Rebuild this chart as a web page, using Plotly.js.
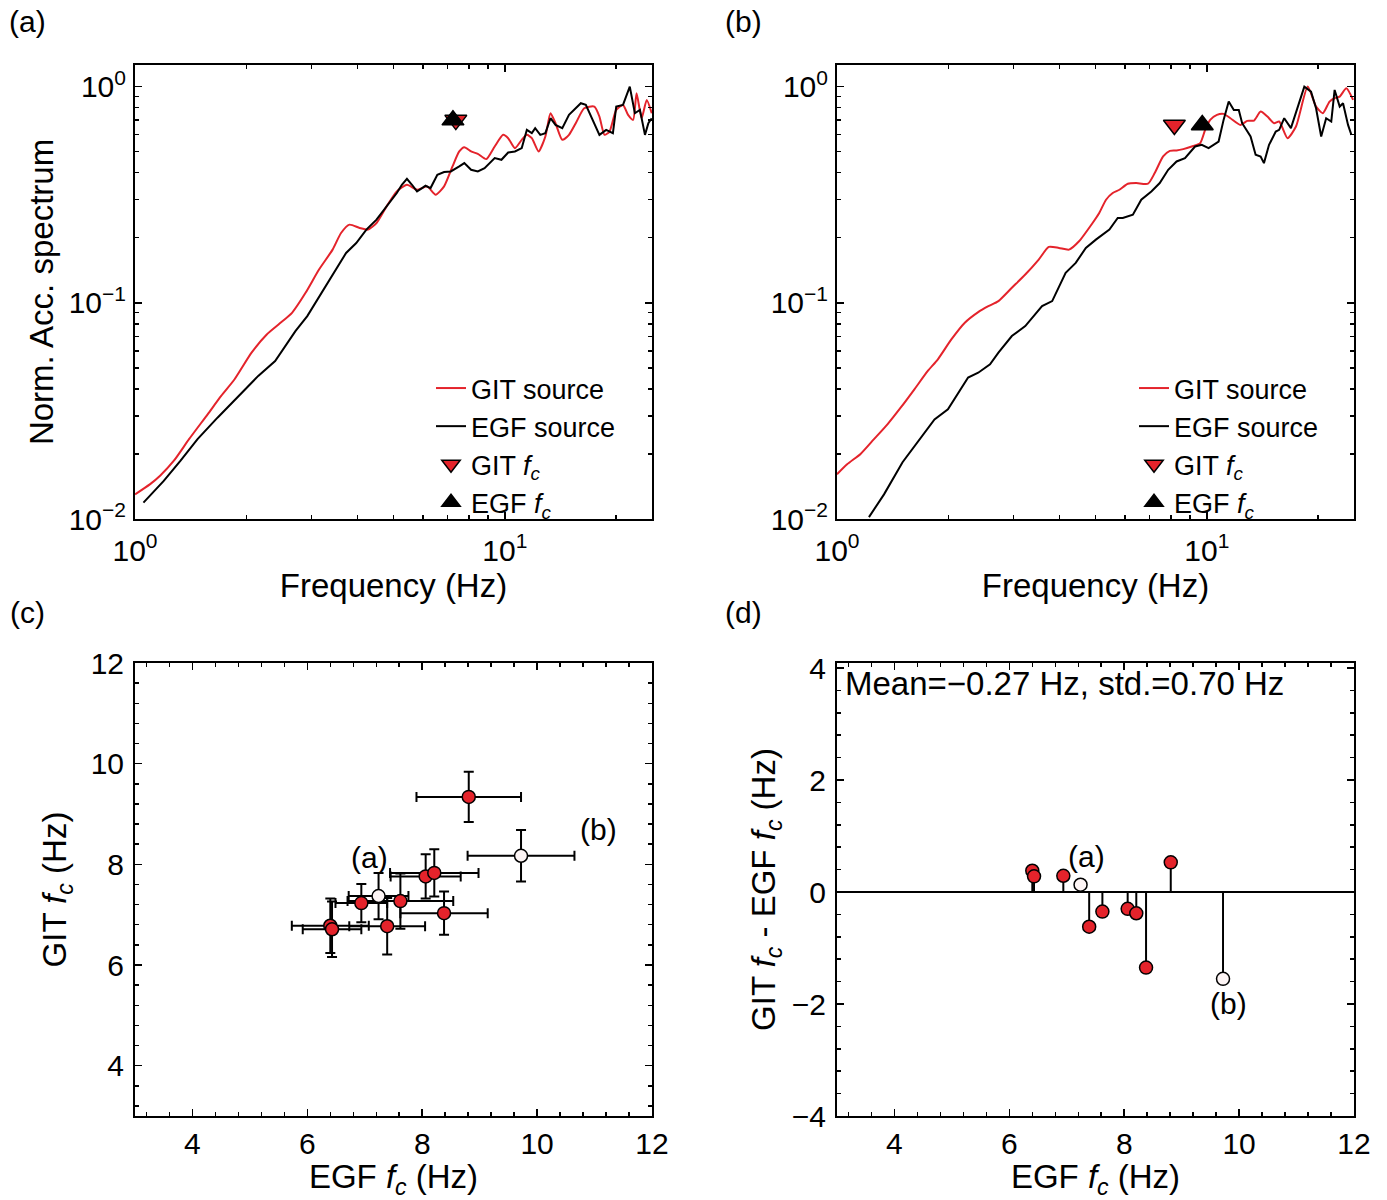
<!DOCTYPE html>
<html>
<head>
<meta charset="utf-8">
<script src="https://cdn.plot.ly/plotly-3.0.1.min.js"></script>
<style>
  html, body { margin: 0; padding: 0; background: #ffffff; }
  #chart { width: 1387px; height: 1200px; }
</style>
</head>
<body>
<div id="chart"></div>
<script>
// ---------------- DATA ----------------
// Panel (a): normalized acceleration source spectra
const freqGitA = [1.000,1.099,1.171,1.274,1.400,1.572,1.710,1.859,2.066,2.271,2.444,2.658,2.892,3.145,3.422,3.607,3.802,4.049,4.267,4.498,4.790,5.104,5.436,5.789,6.166,6.500,6.851,7.220,7.530,7.771,8.105,8.453,8.908,9.389,9.895,10.21,10.65,11.11,11.47,11.83,12.34,12.87,13.29,13.71,14.30,14.91,15.55,16.39,17.46,18.02,18.60,19.19,20.01,20.87,21.54,22.23,22.71,23.44,24.19,24.96];
const specGitA = [0.0130,0.0145,0.0159,0.0186,0.0234,0.0305,0.0371,0.0443,0.0588,0.0714,0.0794,0.0899,0.1112,0.1425,0.1762,0.2103,0.2299,0.2219,0.2181,0.2340,0.2794,0.3276,0.3516,0.3334,0.3455,0.3162,0.3455,0.4274,0.5012,0.5248,0.5012,0.4888,0.4620,0.5285,0.5983,0.5775,0.5193,0.5674,0.5983,0.5775,0.5012,0.5878,0.7533,0.6772,0.5674,0.5983,0.6772,0.7943,0.8085,0.7271,0.5983,0.6198,0.7803,0.8230,0.7400,0.7017,0.9316,0.7142,0.8679,0.7533];
const freqEgfA = [1.054,1.196,1.328,1.476,1.674,1.940,2.154,2.393,2.549,2.715,2.923,3.112,3.281,3.495,3.722,3.965,4.223,4.498,4.790,5.104,5.267,5.436,5.610,5.789,5.975,6.102,6.297,6.569,6.851,7.144,7.530,7.771,8.105,8.453,8.815,9.097,9.389,9.792,10.21,10.65,11.11,11.47,11.83,12.08,12.47,12.87,13.29,13.71,14.30,14.91,15.55,16.05,16.56,17.28,18.02,18.79,19.60,20.01,20.87,21.77,22.47,23.19,23.93,24.44,24.96];
const specEgfA = [0.0119,0.0150,0.0186,0.0234,0.0295,0.0384,0.0459,0.0538,0.0631,0.0740,0.0868,0.1036,0.1194,0.1425,0.1701,0.1891,0.2181,0.2424,0.2794,0.3220,0.3516,0.3748,0.3516,0.3276,0.3394,0.3479,0.3394,0.3912,0.4024,0.4053,0.4274,0.4427,0.4125,0.4053,0.4199,0.4427,0.4669,0.4587,0.4958,0.5012,0.5193,0.6310,0.6090,0.6424,0.5983,0.6090,0.7142,0.6652,0.6424,0.7400,0.7943,0.8377,0.8230,0.7017,0.5983,0.6310,0.6090,0.8085,0.8230,1.0000,0.7533,0.7803,0.5983,0.6772,0.7142];

// Panel (b)
const freqGitB = [1.000,1.065,1.158,1.259,1.369,1.488,1.619,1.760,1.874,2.038,2.216,2.409,2.566,2.732,2.970,3.229,3.511,3.739,3.981,4.240,4.513,4.910,5.117,5.339,5.566,5.803,6.115,6.443,6.933,7.229,7.617,7.943,8.283,8.637,9.102,9.590,9.896,10.21,10.65,11.10,11.58,12.33,12.86,13.41,13.98,14.58,15.20,15.69,16.53,17.42,18.74,19.74,20.59,21.47,22.16,22.87,23.84,24.86];
const specGitB = [0.0161,0.0179,0.0200,0.0234,0.0274,0.0328,0.0398,0.0484,0.0548,0.0677,0.0809,0.0906,0.0965,0.1018,0.1173,0.1351,0.1585,0.1813,0.1794,0.1762,0.1926,0.2340,0.2602,0.2998,0.3220,0.3334,0.3555,0.3580,0.3555,0.3981,0.4753,0.5047,0.5065,0.5138,0.5285,0.5474,0.6310,0.7017,0.7400,0.7481,0.7142,0.6652,0.6943,0.6968,0.7666,0.7271,0.6772,0.6894,0.5775,0.6535,1.0000,0.8085,0.7533,0.8527,0.8835,0.8991,0.9824,0.8679];
const freqEgfB = [1.220,1.340,1.504,1.653,1.835,1.995,2.262,2.409,2.593,2.732,2.970,3.229,3.585,3.818,4.152,4.421,4.708,5.012,5.452,5.742,5.926,6.310,6.648,7.079,7.459,7.862,8.283,8.728,9.294,9.691,10.11,10.76,11.10,11.46,11.83,12.20,12.46,13.13,13.55,13.98,14.27,14.73,15.36,15.69,16.19,16.88,17.60,18.35,19.13,19.74,20.38,21.02,21.70,22.16,22.87,23.35,24.09,24.60];
const specEgfB = [0.0102,0.0130,0.0183,0.0226,0.0289,0.0322,0.0451,0.0475,0.0519,0.0588,0.0702,0.0780,0.0965,0.1018,0.1376,0.1530,0.1794,0.1960,0.2181,0.2468,0.2468,0.2557,0.2998,0.3276,0.3580,0.4125,0.4506,0.4669,0.5285,0.5379,0.5193,0.5572,0.7017,0.8527,0.7803,0.7803,0.6772,0.5878,0.4837,0.4753,0.4427,0.5379,0.6198,0.6310,0.7142,0.6424,0.8085,1.0000,0.9482,0.7943,0.5878,0.7142,0.6894,0.9652,0.8085,0.8377,0.6652,0.5983];

// Corner-frequency marker heights in panels (a) and (b)
const fcMarkerY = [0.70, 0.665];

// Panels (c) and (d): corner frequencies of all events (Hz)
const egfFc  = [6.40, 6.43, 6.94, 7.24, 7.39, 7.62, 8.06, 8.21, 8.38, 8.81, 9.72];
const gitFc  = [6.78, 6.71, 7.23, 7.37, 6.77, 7.27, 7.76, 7.83, 7.03, 9.34, 8.17];
const egfErr = [0.67, 0.51, 0.45, 0.52, 0.66, 0.92, 0.61, 0.77, 0.76, 0.91, 0.93];
const gitErr = [0.54, 0.55, 0.38, 0.46, 0.56, 0.55, 0.44, 0.47, 0.43, 0.50, 0.51];
const eventTag = ['', '', '', '(a)', '', '', '', '', '', '', '(b)'];

// Tick labels
const logXTickVals = [1, 10];
const logXTickText = ['10<sup>0</sup>', '10<sup>1</sup>'];
const logXMinor = [2, 3, 4, 5, 6, 7, 8, 9, 20];
const logYTickVals = [0.01, 0.1, 1];
const logYTickText = ['10<sup>\u22122</sup>', '10<sup>\u22121</sup>', '10<sup>0</sup>'];
const logYMinor = [0.02,0.03,0.04,0.05,0.06,0.07,0.08,0.09,0.2,0.3,0.4,0.5,0.6,0.7,0.8,0.9];

const meanText = 'Mean=\u22120.27 Hz, std.=0.70 Hz';

// ---------------- STYLE / LAYOUT ----------------
const W = 1387, H = 1200;
const px = v => v / W;
const py = v => 1 - v / H;
const RED = '#e4232b';
const FONT = 'Liberation Sans, Arial, Helvetica, sans-serif';
const fc = '<i>f</i><sub><i>c</i></sub>';

const idxA = eventTag.indexOf('(a)');
const idxB = eventTag.indexOf('(b)');
const diff = gitFc.map((g, i) => +(g - egfFc[i]).toFixed(2));

const baseAxis = {
  showline: true, linecolor: 'black', linewidth: 2, mirror: 'allticks',
  ticks: 'inside', ticklen: 7, tickwidth: 1.5, tickcolor: 'black',
  showgrid: false, zeroline: false, automargin: false, fixedrange: true,
  tickfont: { size: 30, color: 'black', family: FONT }
};
const minorLog = vals => ({ tickmode: 'array', tickvals: vals, ticks: 'inside', ticklen: 4, tickwidth: 1.5, tickcolor: 'black', showgrid: false });
const minorLin = { dtick: 0.4, tick0: 0, ticks: 'inside', ticklen: 4, tickwidth: 1.5, tickcolor: 'black', showgrid: false };
const titleFont = { size: 33, color: 'black', family: FONT };

function logX(domain, anchor) {
  return Object.assign({}, baseAxis, {
    type: 'log', domain: domain, anchor: anchor, range: [0, Math.log10(25)],
    tickmode: 'array', tickvals: logXTickVals, ticktext: logXTickText,
    minor: minorLog(logXMinor), ticklabelstandoff: 4,
    title: { text: 'Frequency (Hz)', font: titleFont, standoff: 6 }
  });
}
function logY(domain, anchor, titleText) {
  return Object.assign({}, baseAxis, {
    type: 'log', domain: domain, anchor: anchor, range: [-2, 0.1],
    tickmode: 'array', tickvals: logYTickVals, ticktext: logYTickText,
    minor: minorLog(logYMinor), ticklabelstandoff: 1,
    title: { text: titleText, font: titleFont, standoff: 5 }
  });
}
function linAxis(domain, anchor, range, titleText, isY, tls, ts) {
  return Object.assign({}, baseAxis, {
    domain: domain, anchor: anchor, range: range, dtick: 2, tick0: 0,
    minor: minorLin, ticklabelstandoff: tls,
    title: { text: titleText, font: titleFont, standoff: ts }
  });
}

const topY = [py(519), py(65)];
const botY = [py(1116), py(663)];
const leftX = [px(135), px(652)];
const rightX = [px(837), px(1354)];

const traces = [];
// Panel (a)
traces.push({ x: freqGitA, y: specGitA, xaxis: 'x', yaxis: 'y', mode: 'lines', name: 'GIT source',
  line: { color: RED, width: 2, shape: 'spline', smoothing: 0.6 }, legend: 'legend' });
traces.push({ x: freqEgfA, y: specEgfA, xaxis: 'x', yaxis: 'y', mode: 'lines', name: 'EGF source',
  line: { color: 'black', width: 2 }, legend: 'legend' });
traces.push({ x: [gitFc[idxA]], y: [fcMarkerY[0]], xaxis: 'x', yaxis: 'y', mode: 'markers', name: 'GIT ' + fc,
  marker: { symbol: 'triangle-down', size: 19, color: RED, line: { color: 'black', width: 1.5 } }, legend: 'legend' });
traces.push({ x: [egfFc[idxA]], y: [fcMarkerY[0]], xaxis: 'x', yaxis: 'y', mode: 'markers', name: 'EGF ' + fc,
  marker: { symbol: 'triangle-up', size: 19, color: 'black', line: { color: 'black', width: 1.5 } }, legend: 'legend' });
// Panel (b)
traces.push({ x: freqGitB, y: specGitB, xaxis: 'x2', yaxis: 'y2', mode: 'lines', name: 'GIT source',
  line: { color: RED, width: 2, shape: 'spline', smoothing: 0.6 }, legend: 'legend2' });
traces.push({ x: freqEgfB, y: specEgfB, xaxis: 'x2', yaxis: 'y2', mode: 'lines', name: 'EGF source',
  line: { color: 'black', width: 2 }, legend: 'legend2' });
traces.push({ x: [gitFc[idxB]], y: [fcMarkerY[1]], xaxis: 'x2', yaxis: 'y2', mode: 'markers', name: 'GIT ' + fc,
  marker: { symbol: 'triangle-down', size: 19, color: RED, line: { color: 'black', width: 1.5 } }, legend: 'legend2' });
traces.push({ x: [egfFc[idxB]], y: [fcMarkerY[1]], xaxis: 'x2', yaxis: 'y2', mode: 'markers', name: 'EGF ' + fc,
  marker: { symbol: 'triangle-up', size: 19, color: 'black', line: { color: 'black', width: 1.5 } }, legend: 'legend2' });

const pointColors = eventTag.map(t => t ? '#fdf5f5' : RED);
// Panel (c)
traces.push({ x: egfFc, y: gitFc, xaxis: 'x3', yaxis: 'y3', mode: 'markers', showlegend: false,
  error_x: { type: 'data', array: egfErr, visible: true, color: 'black', thickness: 2, width: 5 },
  error_y: { type: 'data', array: gitErr, visible: true, color: 'black', thickness: 2, width: 5 },
  marker: { size: 13, color: pointColors, line: { color: 'black', width: 1.5 } } });
// Panel (d) stems
const stemX = [], stemY = [];
egfFc.forEach((e, i) => { stemX.push(e, e, null); stemY.push(0, diff[i], null); });
traces.push({ x: stemX, y: stemY, xaxis: 'x4', yaxis: 'y4', mode: 'lines', showlegend: false,
  line: { color: 'black', width: 2 } });
traces.push({ x: egfFc, y: diff, xaxis: 'x4', yaxis: 'y4', mode: 'markers', showlegend: false,
  marker: { size: 13, color: pointColors, line: { color: 'black', width: 1.5 } } });

const tagShiftC = { '(a)': [-9, 39], '(b)': [77, 26] };
const tagShiftD = { '(a)': [6, 28], '(b)': [5, -25] };
const annotations = [];
[['(a)', 27, 22], ['(b)', 743, 22], ['(c)', 27, 612], ['(d)', 743, 612]].forEach(p => {
  annotations.push({ xref: 'paper', yref: 'paper', x: px(p[1]), y: py(p[2]), text: p[0], showarrow: false,
    xanchor: 'center', yanchor: 'middle', font: { size: 30, color: 'black', family: FONT } });
});
eventTag.forEach((t, i) => {
  if (!t) return;
  annotations.push({ xref: 'x3', yref: 'y3', x: egfFc[i], y: gitFc[i], text: t, showarrow: false,
    xshift: tagShiftC[t][0], yshift: tagShiftC[t][1], font: { size: 30, color: 'black', family: FONT } });
  annotations.push({ xref: 'x4', yref: 'y4', x: egfFc[i], y: diff[i], text: t, showarrow: false,
    xshift: tagShiftD[t][0], yshift: tagShiftD[t][1], font: { size: 30, color: 'black', family: FONT } });
});
annotations.push({ xref: 'paper', yref: 'paper', x: px(843), y: py(684), xanchor: 'left', yanchor: 'middle',
  text: meanText, showarrow: false, font: { size: 33, color: 'black', family: FONT } });

const legendStyle = {
  xanchor: 'left', yanchor: 'top', bgcolor: 'rgba(0,0,0,0)', borderwidth: 0,
  font: { size: 27, color: 'black', family: FONT }, tracegroupgap: 0, itemclick: false, itemdoubleclick: false
};

const layout = {
  width: W, height: H,
  margin: { l: 0, r: 0, t: 0, b: 0 },
  paper_bgcolor: 'white', plot_bgcolor: 'white',
  font: { family: FONT, color: 'black', size: 30 },
  hovermode: false,
  xaxis: logX(leftX, 'y'),
  yaxis: logY(topY, 'x', 'Norm. Acc. spectrum'),
  xaxis2: logX(rightX, 'y2'),
  yaxis2: logY(topY, 'x2', ''),
  xaxis3: linAxis(leftX, 'y3', [3, 12], 'EGF ' + fc + ' (Hz)', false, 0, 4),
  yaxis3: linAxis(botY, 'x3', [3, 12], 'GIT ' + fc + ' (Hz)', true, 3, 14),
  xaxis4: linAxis(rightX, 'y4', [3, 12], 'EGF ' + fc + ' (Hz)', false, 0, 4),
  yaxis4: Object.assign(linAxis(botY, 'x4', [-4, 4.09], 'GIT ' + fc + ' - EGF ' + fc + ' (Hz)', true, 3, 6),
    { zeroline: true, zerolinecolor: 'black', zerolinewidth: 1.5 }),
  legend: Object.assign({}, legendStyle, { x: px(431), y: py(364) }),
  legend2: Object.assign({}, legendStyle, { x: px(1134), y: py(364) }),
  annotations: annotations,
  showlegend: true
};

Plotly.newPlot('chart', traces, layout, { staticPlot: true, displayModeBar: false });
</script>
</body>
</html>
